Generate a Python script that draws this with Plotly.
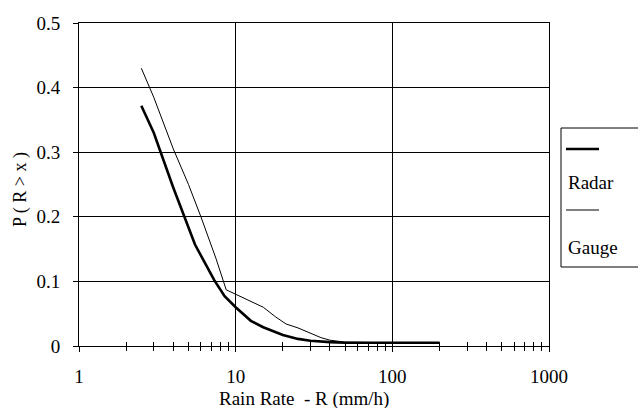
import plotly.graph_objects as go

# Data
radar_x = [2.5, 3, 4, 5.5, 7.3, 8.5, 10, 12.5, 15, 18, 20, 25, 30, 40, 50, 100, 200]
radar_y = [0.372, 0.33, 0.245, 0.157, 0.102, 0.077, 0.06, 0.039, 0.029, 0.021, 0.017, 0.011, 0.008, 0.006, 0.005, 0.005, 0.005]

gauge_x = [2.5, 3, 4, 5, 6, 7.5, 8.7, 10, 12.5, 15, 18, 21, 25, 30, 35, 40, 50, 100, 200]
gauge_y = [0.43, 0.385, 0.305, 0.25, 0.2, 0.135, 0.087, 0.08, 0.07, 0.06, 0.045, 0.034, 0.028, 0.02, 0.013, 0.009, 0.006, 0.005, 0.005]

x_tickvals = [1, 10, 100, 1000]
x_ticktext = ["1", "10", "100", "1000"]
x_minor = [2, 3, 4, 5, 6, 7, 8, 9, 20, 30, 40, 50, 60, 70, 80, 90,
           200, 300, 400, 500, 600, 700, 800, 900]
y_tickvals = [0, 0.1, 0.2, 0.3, 0.4, 0.5]
y_ticktext = ["0", "0.1", "0.2", "0.3", "0.4", "0.5"]

FONT = "'Times New Roman', 'Liberation Serif', 'DejaVu Serif', serif"
FS = 19

fig = go.Figure()
fig.add_trace(go.Scatter(x=radar_x, y=radar_y, mode="lines", name="Radar",
                         line=dict(color="black", width=2.6), showlegend=False))
fig.add_trace(go.Scatter(x=gauge_x, y=gauge_y, mode="lines", name="Gauge",
                         line=dict(color="black", width=1), showlegend=False))
# invisible trace to anchor the overlay axis carrying the inner half of the ticks
fig.add_trace(go.Scatter(x=radar_x, y=radar_y, mode="lines", xaxis="x2",
                         line=dict(color="rgba(0,0,0,0)", width=0),
                         hoverinfo="skip", showlegend=False))

fig.update_layout(
    width=638, height=408,
    margin=dict(l=79, r=89, t=23, b=62),
    paper_bgcolor="white", plot_bgcolor="white",
    font=dict(family=FONT, size=FS, color="black"),
    xaxis=dict(type="log", range=[0, 3], tickvals=x_tickvals, ticktext=x_ticktext,
               showgrid=True, gridcolor="black", gridwidth=1,
               showline=True, linecolor="black", linewidth=1, mirror=True,
               ticks="outside", ticklen=5, tickcolor="black",
               minor=dict(tickvals=x_minor, ticks="outside", ticklen=4,
                          tickcolor="black", showgrid=False),
               ticklabelstandoff=8, zeroline=False,
               tickfont=dict(family=FONT, size=FS)),
    xaxis2=dict(type="log", range=[0, 3], overlaying="x", anchor="y", side="bottom",
                showgrid=False, showline=False, showticklabels=False,
                tickvals=x_tickvals, ticks="inside", ticklen=0,
                minor=dict(tickvals=x_minor, ticks="inside", ticklen=4,
                           tickcolor="black", showgrid=False)),
    yaxis=dict(range=[0, 0.5], tickvals=y_tickvals, ticktext=y_ticktext,
               showgrid=True, gridcolor="black", gridwidth=1,
               showline=True, linecolor="black", linewidth=1, mirror=True,
               ticks="outside", ticklen=5, tickcolor="black",
               ticklabelstandoff=9, zeroline=False,
               tickfont=dict(family=FONT, size=FS)),
)

# axis titles
fig.add_annotation(text="Rain Rate  - R (mm/h)", xref="paper", yref="paper",
                   x=(304 - 79) / 470, y=(346 - 399) / 323, showarrow=False,
                   xanchor="center", yanchor="middle",
                   font=dict(family=FONT, size=FS))
fig.add_annotation(text="P ( R > x )", xref="paper", yref="paper",
                   x=(20 - 79) / 470, y=(346 - 190) / 323, showarrow=False,
                   textangle=-90, xanchor="center", yanchor="middle",
                   font=dict(family=FONT, size=18))

# custom legend (line sample above label)
def px(x):
    return (x - 79) / 470

def py(y):
    return (346 - y) / 323

legend_lines = [
    (561, 128, 700, 128, 1),
    (561, 128, 561, 267, 1),
    (561, 267, 700, 267, 1),
    (566, 149, 599, 149, 2.6),
    (566, 210, 599, 210, 1),
]
for x0, y0, x1, y1, w in legend_lines:
    fig.add_shape(type="line", xref="paper", yref="paper",
                  x0=px(x0), y0=py(y0), x1=px(x1), y1=py(y1),
                  line=dict(color="black", width=w))
for label, yc in [("Radar", 182), ("Gauge", 247)]:
    fig.add_annotation(text=label, xref="paper", yref="paper",
                       x=px(566), y=py(yc), showarrow=False,
                       xanchor="left", yanchor="middle",
                       font=dict(family=FONT, size=FS))

fig.write_html("out.html", config={"displayModeBar": False},
               post_script="document.body.style.margin='0px';")
